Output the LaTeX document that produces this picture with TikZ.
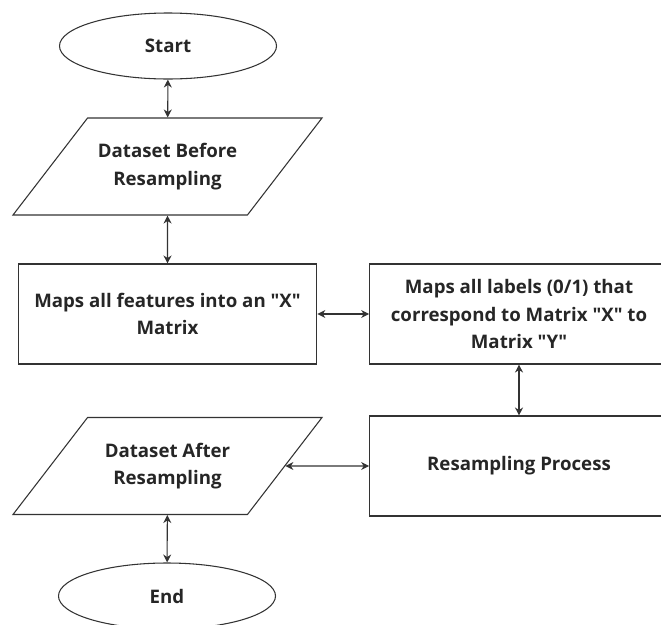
\documentclass[tikz,border=0pt]{standalone}
\usepackage{fontspec}
\setmainfont{Open Sans}[Ligatures=TeXOff]
\usetikzlibrary{shapes.geometric,arrows.meta}
\begin{document}
\begin{tikzpicture}[x=0.75pt,y=-0.75pt,
  every node/.style={font=\bfseries\fontsize{14}{20.5}\selectfont, text=black!85, align=center},
  term/.style={ellipse, draw=black!80, line width=0.8pt, minimum width=162.75pt, minimum height=49.5pt, inner sep=0pt},
  io/.style={trapezium, trapezium left angle=52, trapezium right angle=128, trapezium stretches body, draw=black!80, line width=0.8pt, minimum width=231.75pt, minimum height=72.75pt, inner xsep=0pt, inner ysep=18.5pt},
  proc/.style={rectangle, draw=black!80, line width=0.8pt, minimum width=224pt, minimum height=75pt, inner sep=0pt},
  link/.style={draw=black!80, line width=0.8pt, {Stealth[length=6pt,width=6pt]}-{Stealth[length=6pt,width=6pt]}}]
\useasboundingbox (0,0) rectangle (661,625);
\node[term] (start) at (168,46){Start};
\node[io] (before) at (167.5,166.5){Dataset Before\\Resampling};
\node[proc] (mapx) at (167.5,314){Maps all features into an "X"\\Matrix};
\node[proc] (mapy) at (519,314){Maps all labels (0/1) that\\correspond to Matrix "X" to\\Matrix "Y"};
\node[proc] (resamp) at (519,466){Resampling Process};
\node[io] (after) at (167.5,466){Dataset After\\Resampling};
\node[term] (end) at (167,596){End};
\draw[link](start) -- (before);
\draw[link](before) -- (mapx);
\draw[link](mapx) -- (mapy);
\draw[link](mapy) -- (resamp);
\draw[link](after) -- (resamp);
\draw[link](after) -- (end);
\end{tikzpicture}
\end{document}
